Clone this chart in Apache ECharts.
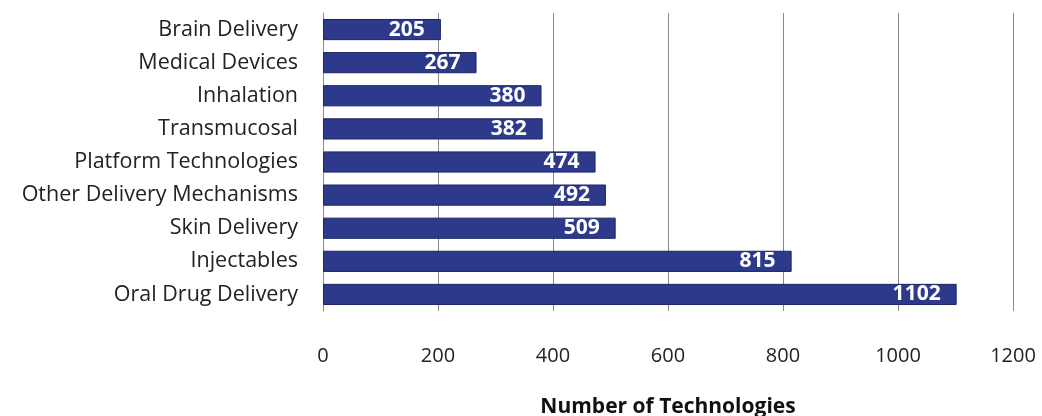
<!DOCTYPE html>
<html><head><meta charset="utf-8">
<script src="https://cdn.jsdelivr.net/npm/echarts@6/dist/echarts.min.js"></script>
<style>html,body{margin:0;padding:0;background:#fff}#c{width:1042px;height:416px}</style>
</head><body><div id="c"></div>
<script>
const categories = ["Oral Drug Delivery","Injectables","Skin Delivery","Other Delivery Mechanisms","Platform Technologies","Transmucosal","Inhalation","Medical Devices","Brain Delivery"];
const values = [1102,815,509,492,474,382,380,267,205];
const xTicks = {min:0,max:1200,interval:200};
const xTitle = "Number of Technologies";
const font = "'Open Sans', sans-serif";
const chart = echarts.init(document.getElementById('c'));
chart.setOption({
  animation:false,
  grid:{left:323,right:29,top:13,bottom:105,containLabel:false,outerBoundsMode:'none'},
  xAxis:{type:'value',min:xTicks.min,max:xTicks.max,interval:xTicks.interval,
    name:xTitle,nameLocation:'middle',nameGap:86,
    nameTextStyle:{fontFamily:font,fontSize:21,fontWeight:'bold',color:'#111'},
    axisLine:{show:false},axisTick:{show:false},
    axisLabel:{fontFamily:font,fontSize:20,color:'#222',margin:35,formatter:v=>String(v)},
    splitLine:{show:true,lineStyle:{color:'#8a8a8a',width:1}}},
  yAxis:{type:'category',data:categories,
    axisLine:{show:true,lineStyle:{color:'#8a8a8a'}},axisTick:{show:false},
    axisLabel:{fontFamily:font,fontSize:21.5,color:'#222',margin:25}},
  series:[{type:'bar',data:values,barWidth:'64%',
    itemStyle:{color:'#2d3a8c',borderColor:'#1d2560',borderWidth:1},
    label:{show:true,position:'insideRight',distance:16,color:'#fff',fontFamily:font,fontWeight:'bold',fontSize:21}}]
});
</script></body></html>
